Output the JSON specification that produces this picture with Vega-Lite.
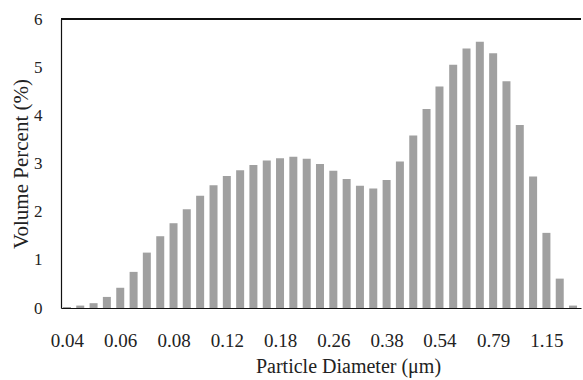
{
  "$schema": "https://vega.github.io/schema/vega-lite/v6.json",
  "width": 520,
  "height": 289,
  "autosize": {"type": "none"},
  "padding": {"left": 61, "top": 19, "right": 2, "bottom": 72},
  "background": "white",
  "config": {
    "view": {"stroke": null},
    "font": "Liberation Serif",
    "axis": {"grid": false, "domainColor": "#111", "domainWidth": 1.2, "labelColor": "#222", "titleColor": "#222", "titleFontWeight": "normal", "ticks": false, "tickSize": 0, "labelFont": "Liberation Serif", "titleFont": "Liberation Serif"}
  },
  "data": {"values": [
    {"diameter": 0.0400, "volume": 0.02},
    {"diameter": 0.0439, "volume": 0.05},
    {"diameter": 0.0482, "volume": 0.10},
    {"diameter": 0.0529, "volume": 0.23},
    {"diameter": 0.0581, "volume": 0.42},
    {"diameter": 0.0638, "volume": 0.75},
    {"diameter": 0.0700, "volume": 1.15},
    {"diameter": 0.0769, "volume": 1.49},
    {"diameter": 0.0844, "volume": 1.76},
    {"diameter": 0.0926, "volume": 2.05},
    {"diameter": 0.1017, "volume": 2.33},
    {"diameter": 0.1117, "volume": 2.55},
    {"diameter": 0.1226, "volume": 2.74},
    {"diameter": 0.1346, "volume": 2.86},
    {"diameter": 0.1477, "volume": 2.97},
    {"diameter": 0.1622, "volume": 3.06},
    {"diameter": 0.1780, "volume": 3.11},
    {"diameter": 0.1954, "volume": 3.14},
    {"diameter": 0.2146, "volume": 3.10},
    {"diameter": 0.2355, "volume": 2.99},
    {"diameter": 0.2586, "volume": 2.85},
    {"diameter": 0.2839, "volume": 2.68},
    {"diameter": 0.3116, "volume": 2.54},
    {"diameter": 0.3421, "volume": 2.48},
    {"diameter": 0.3756, "volume": 2.66},
    {"diameter": 0.4123, "volume": 3.04},
    {"diameter": 0.4527, "volume": 3.58},
    {"diameter": 0.4969, "volume": 4.13},
    {"diameter": 0.5440, "volume": 4.60},
    {"diameter": 0.5989, "volume": 5.05},
    {"diameter": 0.6575, "volume": 5.39},
    {"diameter": 0.7218, "volume": 5.53},
    {"diameter": 0.7924, "volume": 5.29},
    {"diameter": 0.8699, "volume": 4.71},
    {"diameter": 0.9550, "volume": 3.80},
    {"diameter": 1.0484, "volume": 2.73},
    {"diameter": 1.1509, "volume": 1.56},
    {"diameter": 1.2635, "volume": 0.61},
    {"diameter": 1.3870, "volume": 0.05}
  ]},
  "layer": [
    {
      "mark": {"type": "bar", "width": 8, "color": "#a0a0a0"},
      "encoding": {
        "x": {
          "field": "diameter", "type": "quantitative",
          "scale": {"type": "log", "domain": [0.03973, 1.416], "nice": false},
          "axis": {
            "values": [0.04, 0.0581, 0.0844, 0.1226, 0.178, 0.2586, 0.3756, 0.544, 0.7924, 1.1509],
            "format": ".2f",
            "labelFontSize": 19,
            "labelPadding": 23,
            "labelFlush": false,
            "labelOverlap": false,
            "title": "Particle Diameter (μm)",
            "titleFontSize": 20,
            "titlePadding": 6,
            "titleX": 287,
            "titleAlign": "center"
          }
        },
        "y": {
          "field": "volume", "type": "quantitative",
          "scale": {"domain": [0, 6], "nice": false},
          "axis": {
            "values": [0, 1, 2, 3, 4, 5, 6],
            "format": "d",
            "labelFontSize": 17,
            "labelPadding": 19,
            "title": "Volume Percent (%)",
            "titleFontSize": 21,
            "titlePadding": 2
          }
        }
      }
    },
    {
      "mark": {"type": "rule", "color": "#111", "strokeWidth": 1.2},
      "encoding": {"y": {"datum": 6}}
    }
  ]
}
